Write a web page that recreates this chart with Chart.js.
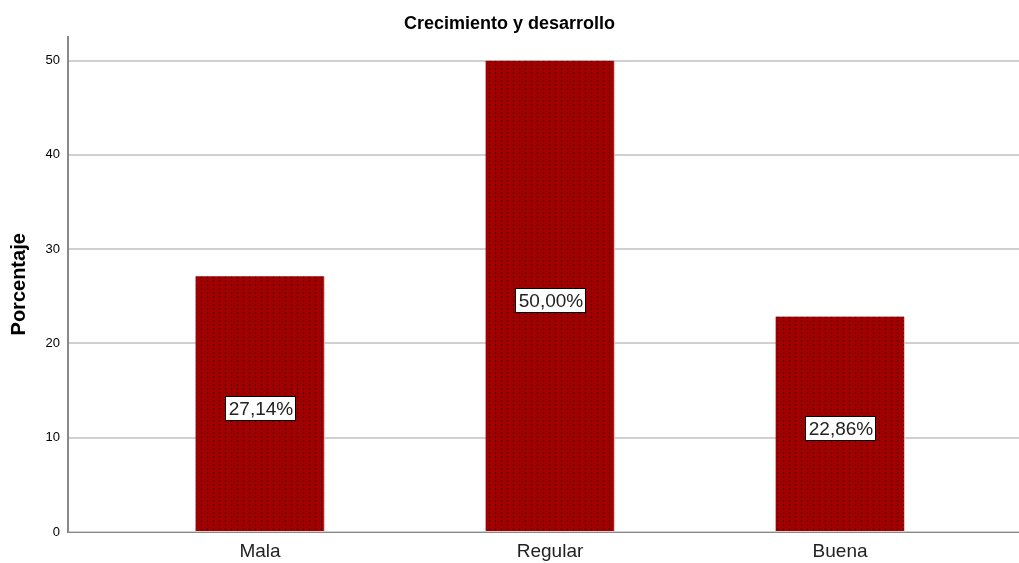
<!DOCTYPE html>
<html>
<head>
<meta charset="utf-8">
<script src="https://cdn.jsdelivr.net/npm/chart.js@4"></script>
<style>
  html, body { margin: 0; padding: 0; background: #fff; }
  #wrap { width: 1019px; height: 563px; }
</style>
</head>
<body>
<div id="wrap"><canvas id="chart"></canvas></div>
<script>
const categories = ['Mala', 'Regular', 'Buena'];
const percentages = [27.14, 50.00, 22.86];
const yTicks = [0, 10, 20, 30, 40, 50];

const FONT = '"Liberation Sans", Arial, sans-serif';

// Motif pointillé des barres (style SPSS)
function makePattern() {
    const c = document.createElement('canvas');
    c.width = 6; c.height = 4;
    const p = c.getContext('2d');
    p.fillStyle = '#a00000';
    p.fillRect(0, 0, 6, 4);
    p.fillStyle = '#4a0000';
    p.fillRect(3, 0, 1, 2);
    return p.createPattern(c, 'repeat');
}

// Étiquettes blanches encadrées au centre des barres
const boxLabelPlugin = {
    id: 'boxLabels',
    afterDatasetsDraw(chart) {
        const { ctx } = chart;
        const meta = chart.getDatasetMeta(0);
        ctx.save();
        ctx.font = '19px ' + FONT;
        ctx.textAlign = 'center';
        ctx.textBaseline = 'middle';
        meta.data.forEach((bar, i) => {
            const text = percentages[i].toFixed(2).replace('.', ',') + '%';
            const w = Math.round(ctx.measureText(text).width + 6);
            const h = 24;
            const cx = Math.round(bar.x);
            const cy = Math.round((bar.y + bar.base) / 2) + 4;
            const x0 = Math.round(cx - w / 2);
            const y0 = cy - h / 2;
            ctx.fillStyle = '#fff';
            ctx.fillRect(x0, y0, w, h);
            ctx.strokeStyle = '#000';
            ctx.lineWidth = 1;
            ctx.strokeRect(x0 + 0.5, y0 + 0.5, w, h);
            ctx.fillStyle = '#222';
            ctx.fillText(text, cx + 1, cy + 2);
        });
        ctx.restore();
    }
};

const points = categories.map((c, i) => ({ x: i + 1, y: percentages[i] }));

new Chart(document.getElementById('chart'), {
    type: 'bar',
    data: {
        datasets: [{
            data: points,
            backgroundColor: makePattern(),
            borderColor: '#e8b0b0',
            borderWidth: { right: 1 },
            barThickness: 129
        }]
    },
    options: {
        responsive: true,
        maintainAspectRatio: false,
        animation: false,
        layout: { padding: { top: 0, right: 0, bottom: 0, left: 0 } },
        plugins: {
            legend: { display: false },
            tooltip: { enabled: false },
            title: {
                display: true,
                text: 'Crecimiento y desarrollo',
                color: '#000',
                font: { family: FONT, size: 18, weight: 'bold' },
                padding: { top: 13, bottom: 2 }
            }
        },
        scales: {
            x: {
                type: 'linear',
                offset: false,
                min: 0.338,
                max: 3.617,
                grid: { display: false, drawTicks: false },
                border: { color: '#888', width: 1 },
                afterBuildTicks(scale) {
                    scale.ticks = categories.map((c, i) => ({ value: i + 1 }));
                },
                afterFit(scale) { scale.height = 31; },
                ticks: {
                    color: '#222',
                    padding: 8,
                    autoSkip: false,
                    maxRotation: 0,
                    font: { family: FONT, size: 19 },
                    callback: (v) => categories[v - 1]
                }
            },
            y: {
                min: 0,
                max: 52.55,
                afterBuildTicks(scale) {
                    scale.ticks = yTicks.map(v => ({ value: v }));
                },
                afterFit(scale) { scale.width = 68; },
                grid: { color: '#d0d0d0', lineWidth: 2, drawTicks: false },
                border: { color: '#888', width: 2 },
                ticks: {
                    color: '#000',
                    padding: 8,
                    font: { family: FONT, size: 13 }
                },
                title: {
                    display: true,
                    text: 'Porcentaje',
                    color: '#000',
                    padding: { top: 7, bottom: 0 },
                    font: { family: FONT, size: 20, weight: 'bold' }
                }
            }
        }
    },
    plugins: [boxLabelPlugin]
});
</script>
</body>
</html>
